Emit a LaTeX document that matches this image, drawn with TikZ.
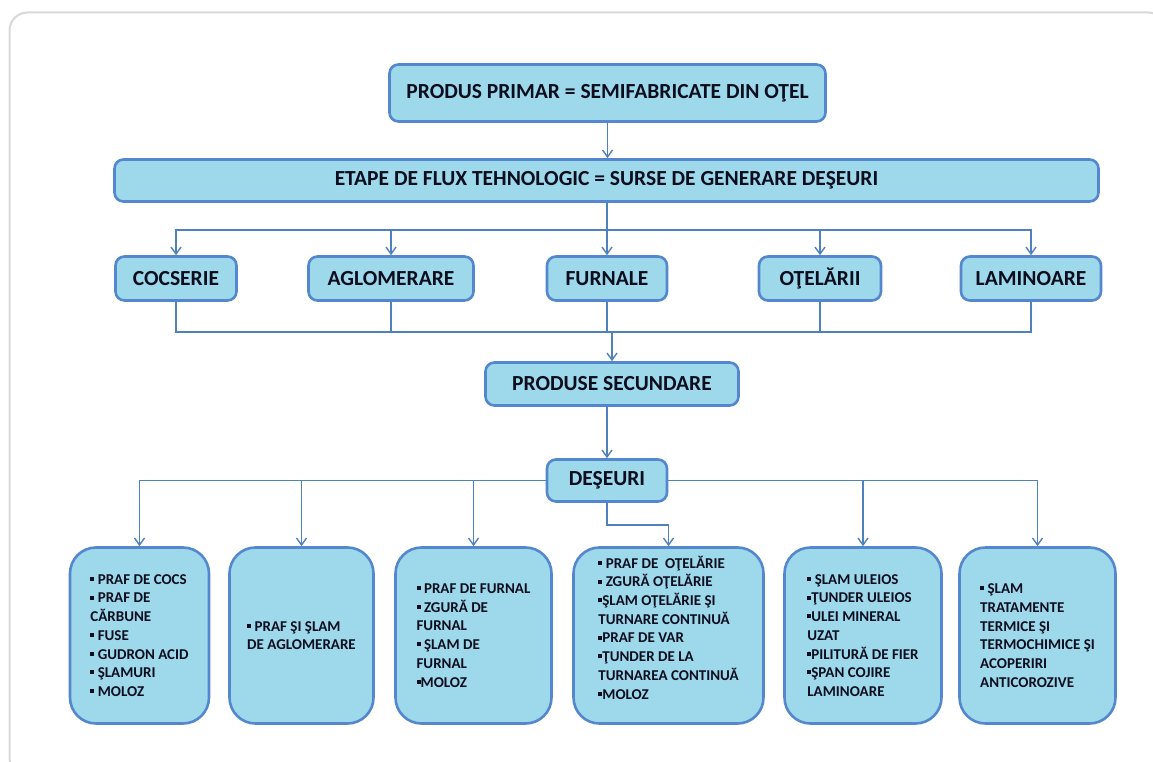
\documentclass[tikz,border=0pt]{standalone}
\usepackage{fontspec}
\setmainfont{Carlito}
\usetikzlibrary{arrows.meta}
\definecolor{boxfill}{RGB}{157,217,235}
\definecolor{boxline}{RGB}{84,135,205}
\definecolor{wire}{RGB}{79,129,189}
\definecolor{ink}{RGB}{12,14,30}
\definecolor{framegray}{RGB}{216,216,216}
% small square list bullet
\newcommand\wbul{\raisebox{0.22em}{\rule{0.27em}{0.27em}}}

\begin{document}
\begin{tikzpicture}[x=1pt,y=-1pt,
  head/.style={draw=boxline, fill=boxfill, line width=2.6pt, rounded corners=9pt,
    inner sep=0pt, text=ink, font=\fontsize{21.5}{26}\selectfont\bfseries},
  waste/.style={draw=boxline, fill=boxfill, line width=2.6pt, rounded corners=26pt,
    inner sep=0pt, minimum height=176pt},
  listtext/.style={align=left, text=ink, inner sep=0pt,
    font=\fontsize{15}{18.7}\selectfont\bfseries},
  wireline/.style={draw=wire, line width=1.4pt},
  arr/.style={wireline, -{Straight Barb[length=7pt,width=10pt]}}
]
\useasboundingbox (0,0) rectangle (1153,762);
\clip (0,0) rectangle (1153,762);

% outer frame
\draw[framegray, line width=2pt, rounded corners=18pt] (9.5,12.5) rectangle (1166,776);

% main chain
\node[head, minimum width=436pt, minimum height=57pt] (top) at (607.5,93)
  {PRODUS PRIMAR = SEMIFABRICATE DIN OŢEL};
\node[head, minimum width=984pt, minimum height=42pt] (etape) at (606.5,180.5)
  {ETAPE DE FLUX TEHNOLOGIC = SURSE DE GENERARE DEŞEURI};

% process stages
\node[head, minimum width=121pt, minimum height=44pt] (cocs) at (176,278.5) {COCSERIE};
\node[head, minimum width=165pt, minimum height=44pt] (aglo) at (391,278.5) {AGLOMERARE};
\node[head, minimum width=120pt, minimum height=44pt] (furn) at (607,278.5) {FURNALE};
\node[head, minimum width=122pt, minimum height=44pt] (otel) at (820,278.5) {OŢELĂRII};
\node[head, minimum width=140pt, minimum height=44pt] (lam)  at (1031,278.5) {LAMINOARE};

\node[head, minimum width=253pt, minimum height=43pt] (prod) at (612,384) {PRODUSE SECUNDARE};
\node[head, minimum width=120pt, minimum height=42pt] (des) at (607,480.5) {DEŞEURI};

% waste boxes
\node[waste, minimum width=139pt] (b1) at (139.5,635.5) {};
\node[waste, minimum width=144pt] (b2) at (301.5,635.5) {};
\node[waste, minimum width=156pt] (b3) at (473.5,635.5) {};
\node[waste, minimum width=190pt] (b4) at (668.5,635.5) {};
\node[waste, minimum width=157pt] (b5) at (863,635.5) {};
\node[waste, minimum width=156pt] (b6) at (1037.5,635.5) {};

\node[listtext] (t1) at (b1) {\wbul\ PRAF DE COCS\\\wbul\ PRAF DE\\CĂRBUNE\\\wbul\ FUSE\\\wbul\ GUDRON ACID\\\wbul\ ŞLAMURI\\\wbul\ MOLOZ};
\node[listtext] (t2) at (b2) {\wbul\ PRAF ŞI ŞLAM\\DE AGLOMERARE};
\node[listtext] (t3) at (b3) {\wbul\ PRAF DE FURNAL\\\wbul\ ZGURĂ DE\\FURNAL\\\wbul\ ŞLAM DE\\FURNAL\\\wbul MOLOZ};
\node[listtext] (t4) at ([yshift=8pt]b4.center) {\wbul\ PRAF DE\ \ OŢELĂRIE\\\wbul\ ZGURĂ OŢELĂRIE\\\wbul ŞLAM OŢELĂRIE ŞI\\TURNARE CONTINUĂ\\\wbul PRAF DE VAR\\\wbul ŢUNDER DE LA\\TURNAREA CONTINUĂ\\\wbul MOLOZ};
\node[listtext] (t5) at (b5) {\wbul\ ŞLAM ULEIOS\\\wbul ŢUNDER ULEIOS\\\wbul ULEI MINERAL\\UZAT\\\wbul PILITURĂ DE FIER\\\wbul ŞPAN COJIRE\\LAMINOARE};
\node[listtext] (t6) at (b6) {\wbul\ ŞLAM\\TRATAMENTE\\TERMICE ŞI\\TERMOCHIMICE ŞI\\ACOPERIRI\\ANTICOROZIVE};

% connectors
\draw[arr] (top.south) -- (top.south |- etape.north);

\coordinate (split) at (607,230);
\draw[wireline] (split |- etape.south) -- (split);
\foreach \n in {cocs,aglo,furn,otel,lam} \draw[arr] (split) -| (\n.north);

\coordinate (merge) at (612,332);
\foreach \n in {cocs,aglo,furn,otel,lam} \draw[wireline] (\n.south) |- (merge);
\draw[arr] (merge) -- (prod.north);

\draw[arr] (des.north |- prod.south) -- (des.north);

\foreach \n in {b1,b2,b3} \draw[arr] (des.west) -| (\n.north);
\foreach \n in {b5,b6} \draw[arr] (des.east) -| (\n.north);
\coordinate (jog) at (607,525);
\draw[arr] (des.south) -- (jog) -| (b4.north);
\end{tikzpicture}
\end{document}
